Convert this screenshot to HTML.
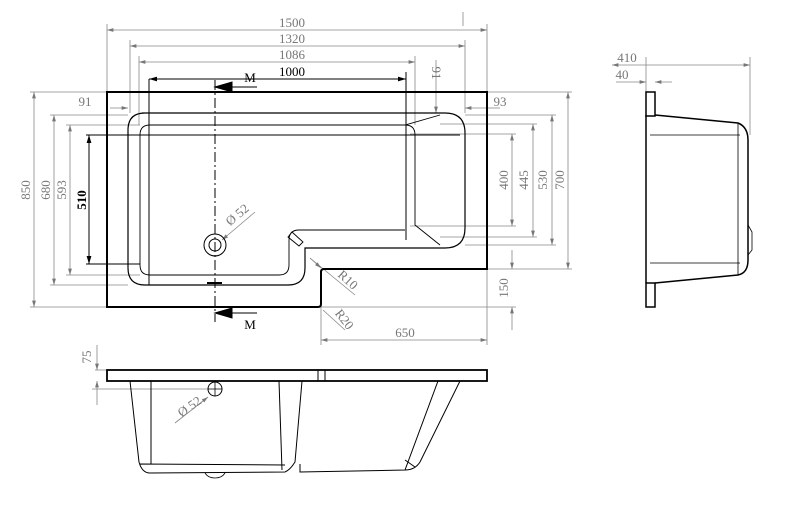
<!DOCTYPE html>
<html><head><style>html,body{margin:0;padding:0;background:#fff;}svg{display:block}</style></head>
<body>
<svg width="800" height="509" viewBox="0 0 800 509" xmlns="http://www.w3.org/2000/svg" font-family="Liberation Serif, serif">
<defs>
<marker id="a" viewBox="0 0 10 6" refX="10" refY="3" markerWidth="8" markerHeight="5" orient="auto-start-reverse"><path d="M0,0L10,3L0,6z" fill="#777"/></marker>
<marker id="b" viewBox="0 0 10 6" refX="10" refY="3" markerWidth="8" markerHeight="5" orient="auto-start-reverse"><path d="M0,0L10,3L0,6z" fill="#000"/></marker>
</defs>
<g stroke="#888" stroke-width="0.8" fill="none">
<line x1="107" y1="24" x2="107" y2="92"/><line x1="487" y1="24" x2="487" y2="92"/>
<line x1="130" y1="40" x2="130" y2="113"/><line x1="465" y1="40" x2="465" y2="113"/>
<line x1="139" y1="56" x2="139" y2="125"/><line x1="415" y1="56" x2="415" y2="125"/>
<line x1="463" y1="12" x2="463" y2="26"/>
<line x1="30" y1="92" x2="107" y2="92"/><line x1="50" y1="115" x2="128" y2="115"/>
<line x1="66" y1="125" x2="140" y2="125"/><line x1="50" y1="285" x2="128" y2="285"/>
<line x1="66" y1="275" x2="140" y2="275"/><line x1="30" y1="307" x2="107" y2="307"/>
<line x1="487" y1="92" x2="572" y2="92"/><line x1="465" y1="115" x2="556" y2="115"/>
<line x1="440" y1="124" x2="537" y2="124"/><line x1="410" y1="134" x2="516" y2="134"/>
<line x1="410" y1="226" x2="516" y2="226"/><line x1="440" y1="237" x2="537" y2="237"/>
<line x1="465" y1="245" x2="556" y2="245"/><line x1="487" y1="269" x2="572" y2="269"/>
<line x1="321" y1="307" x2="516" y2="307"/><line x1="487" y1="269" x2="487" y2="345"/>
<line x1="321" y1="307" x2="321" y2="345"/>
<line x1="436" y1="60" x2="436" y2="90"/>
<line x1="107" y1="30" x2="487" y2="30" marker-start="url(#a)" marker-end="url(#a)"/>
<line x1="130" y1="46" x2="465" y2="46" marker-start="url(#a)" marker-end="url(#a)"/>
<line x1="139" y1="62" x2="415" y2="62" marker-start="url(#a)" marker-end="url(#a)"/>
<line x1="34" y1="92" x2="34" y2="307" marker-start="url(#a)" marker-end="url(#a)"/>
<line x1="54" y1="115" x2="54" y2="285" marker-start="url(#a)" marker-end="url(#a)"/>
<line x1="70" y1="125" x2="70" y2="275" marker-start="url(#a)" marker-end="url(#a)"/>
<line x1="512" y1="134" x2="512" y2="226" marker-start="url(#a)" marker-end="url(#a)"/>
<line x1="533" y1="124" x2="533" y2="237" marker-start="url(#a)" marker-end="url(#a)"/>
<line x1="552" y1="115" x2="552" y2="245" marker-start="url(#a)" marker-end="url(#a)"/>
<line x1="568" y1="92" x2="568" y2="269" marker-start="url(#a)" marker-end="url(#a)"/>
<line x1="512" y1="250" x2="512" y2="269" marker-end="url(#a)"/><line x1="512" y1="330" x2="512" y2="307" marker-end="url(#a)"/>
<line x1="321" y1="340" x2="487" y2="340" marker-start="url(#a)" marker-end="url(#a)"/>
<line x1="110" y1="108" x2="128" y2="108" marker-end="url(#a)"/>
<line x1="465" y1="108" x2="487" y2="108" marker-start="url(#a)"/><line x1="487" y1="108" x2="500" y2="108"/>
<line x1="436" y1="90" x2="436" y2="113" marker-end="url(#a)"/>
<line x1="310" y1="258" x2="355" y2="295"/><line x1="321" y1="268" x2="310" y2="258" marker-start="url(#a)"/>
<line x1="323" y1="310" x2="345" y2="330"/>
<line x1="255" y1="212" x2="222" y2="240" marker-end="url(#a)"/>
<line x1="646" y1="57" x2="646" y2="92"/><line x1="750" y1="57" x2="750" y2="135"/>
<line x1="612" y1="65" x2="750" y2="65" marker-start="url(#a)" marker-end="url(#a)"/>
<line x1="616" y1="82" x2="646" y2="82" marker-end="url(#a)"/><line x1="672" y1="82" x2="655" y2="82" marker-end="url(#a)"/>
<line x1="97" y1="345" x2="97" y2="370" marker-end="url(#a)"/><line x1="97" y1="405" x2="97" y2="381" marker-end="url(#a)"/>
<line x1="95" y1="370" x2="107" y2="370"/><line x1="92" y1="389" x2="209" y2="389"/>
<line x1="175" y1="423" x2="208" y2="397" marker-end="url(#a)"/>
</g>
<g stroke="#000" stroke-width="1" fill="none">
<line x1="149" y1="79" x2="406" y2="79" marker-start="url(#b)" marker-end="url(#b)"/>
<line x1="149" y1="79" x2="149" y2="285"/><line x1="406" y1="72" x2="406" y2="240"/>
<line x1="89" y1="135" x2="89" y2="264" marker-start="url(#b)" marker-end="url(#b)"/>
<line x1="86" y1="135" x2="150" y2="135"/><line x1="86" y1="264" x2="140" y2="264"/>
<line x1="215" y1="80" x2="215" y2="322" stroke-dasharray="10,3,2,3"/>
<path d="M257,87H228" /><path d="M215,87l17,-5v10z" fill="#000"/>
<path d="M257,313H228" /><path d="M215,313l17,-5v10z" fill="#000"/>
<line x1="207" y1="283" x2="222" y2="283" stroke-width="2"/>
</g>
<g stroke="#000" fill="none">
<path d="M107,92H487V269H324Q321,269 321,272V304Q321,307 318,307H107Z" stroke-width="2"/>
<path d="M142,113H437L445,113Q465,113 465,133V228Q465,248 445,248H305V268Q305,285 288,285H145Q128,285 128,268V130Q128,113 145,113Z" stroke-width="1.2"/>
<path d="M150,125H405L440,115M405,125Q415,125 415,135V225L440,245M150,125Q140,125 140,135V265Q140,275 150,275H279Q289,275 289,265V240Q289,230 299,230H405M140,135H460" stroke-width="0.9"/>
<path d="M292,232L303,242L299,246L288,237Z" stroke-width="0.9"/>
<circle cx="215" cy="245" r="11" stroke-width="1"/><circle cx="215" cy="245" r="6"/>
</g>
<g stroke="#000" fill="none" stroke-width="1.5">
<rect x="646" y="92" width="9" height="24"/><rect x="646" y="283" width="9" height="24"/>
<path d="M646,115V283M655,115L738,123Q748,127 748,140V260Q748,273 738,275L655,283"/>
<path d="M650,135H740M650,263H740M738,123V275M748,225L752,232V250L748,255" stroke-width="0.8"/>
</g>
<g stroke="#000" fill="none">
<rect x="107" y="370" width="380" height="11" stroke-width="1.8"/>
<line x1="318" y1="370" x2="318" y2="381"/><line x1="325" y1="370" x2="325" y2="381"/>
<path d="M130,381L139,462Q142,473 150,473L285,472Q290,470 295,462L302,381M151,381V464M279,381L282,470M300,464L300,472L405,470L438,381M460,381L420,462Q415,470 405,470M140,464L285,465M405,460L415,467" stroke-width="1"/>
<path d="M205,473Q208,478 215,478Q222,478 225,473" stroke-width="0.8"/>
<circle cx="215" cy="389" r="7"/><path d="M208,389h14M215,382v14" stroke-width="0.8"/>
</g>
<g fill="#777" font-size="13" text-anchor="middle">
<text x="292" y="27">1500</text><text x="292" y="43">1320</text><text x="292" y="59">1086</text>
<text x="85" y="106">91</text><text x="500" y="106">93</text>
<text x="627" y="62">410</text><text x="622" y="79">40</text>
<text x="405" y="337">650</text>
<text transform="translate(30,190) rotate(-90)">850</text>
<text transform="translate(50,190) rotate(-90)">680</text>
<text transform="translate(66,190) rotate(-90)">593</text>
<text transform="translate(432,73) rotate(90)">91</text>
<text transform="translate(508,180) rotate(-90)">400</text>
<text transform="translate(528,180) rotate(-90)">445</text>
<text transform="translate(547,180) rotate(-90)">530</text>
<text transform="translate(564,180) rotate(-90)">700</text>
<text transform="translate(508,288) rotate(-90)">150</text>
<text transform="translate(91,357) rotate(-90)">75</text>
<text transform="translate(240,218) rotate(-40)">Ø 52</text>
<text transform="translate(345,283) rotate(42)">R10</text>
<text transform="translate(341,322) rotate(52)">R20</text>
<text transform="translate(192,410) rotate(-35)">Ø 52</text>
</g>
<g fill="#000" font-size="13" text-anchor="middle">
<text x="292" y="76">1000</text>
<text x="250" y="82">M</text><text x="250" y="329">M</text>
<text transform="translate(86,200) rotate(-90)" font-weight="bold">510</text>
</g>
</svg>
</body></html>
